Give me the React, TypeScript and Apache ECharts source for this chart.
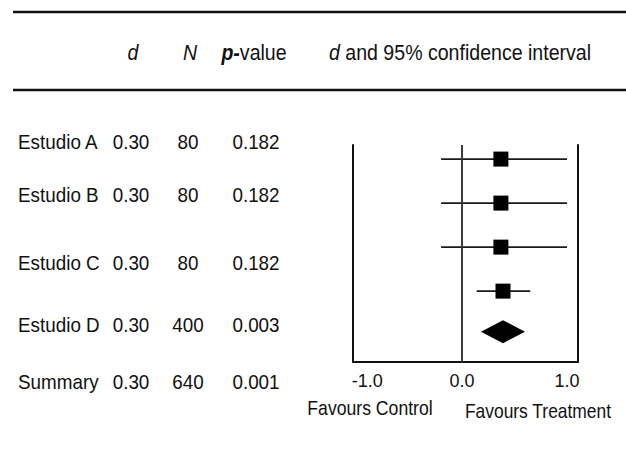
import React, { useEffect, useRef } from "react";
import * as echarts from "echarts";

// ---- data ----
const studies = ["Estudio A", "Estudio B", "Estudio C", "Estudio D", "Summary"];
const dLabels = ["0.30", "0.30", "0.30", "0.30", "0.30"];
const nValues = [80, 80, 80, 400, 640];
const pValues = ["0.182", "0.182", "0.182", "0.003", "0.001"];
const estimates = [0.37, 0.37, 0.37, 0.39, 0.39];
const lowerCI = [-0.2, -0.2, -0.2, 0.14, 0.18];
const upperCI = [1.0, 1.0, 1.0, 0.65, 0.6];
const rowPos = [1, 2, 3, 4, 4.92];
const xTicks = [-1, 0, 1];

// table row text positions (layout)
const tableRowY = [142, 195, 263, 325, 382];

const FONT = "'Liberation Sans', Arial, Helvetica, sans-serif";

export default function App() {
  const ref = useRef<HTMLDivElement>(null);

  useEffect(() => {
    document.body.style.margin = "0";
    const chart = echarts.init(ref.current!, null, { renderer: "svg" });

    const studyIdx = [0, 1, 2, 3];
    const ciData = studyIdx.map((i) => [lowerCI[i], upperCI[i], rowPos[i]]);
    const squareData = studyIdx.map((i) => [estimates[i], rowPos[i]]);
    const s = 4;
    const diamondData = [[lowerCI[s], estimates[s], upperCI[s], rowPos[s]]];

    // condensed text: real text, horizontally scaled around its anchor
    const txt = (
      text: string,
      x: number,
      y: number,
      fontSize: number,
      sx: number,
      extra: any = {}
    ) => ({
      type: "text",
      silent: true,
      x,
      y,
      scaleX: sx,
      style: {
        text,
        x: 0,
        y: 0,
        fontFamily: FONT,
        fontSize,
        fill: "#111",
        align: "center",
        verticalAlign: "middle",
        ...extra,
      },
    });

    const HFS = 21.5;
    const HSX = 0.91;
    const RFS = 20.5;
    const RSX = 0.92;

    const graphics: any[] = [
      {
        type: "line",
        silent: true,
        shape: { x1: 13, y1: 12, x2: 626, y2: 12 },
        style: { stroke: "#111", lineWidth: 2.5 },
      },
      {
        type: "line",
        silent: true,
        shape: { x1: 13, y1: 90, x2: 626, y2: 90 },
        style: { stroke: "#111", lineWidth: 2.5 },
      },
      txt("d", 133, 52, HFS, HSX, { fontStyle: "italic" }),
      txt("N", 190, 52, HFS, HSX, { fontStyle: "italic" }),
      txt("{b|p-}{n|value}", 254, 52, HFS, HSX, {
        rich: {
          b: { fontFamily: FONT, fontSize: HFS, fontStyle: "italic", fontWeight: "bold", fill: "#111" },
          n: { fontFamily: FONT, fontSize: HFS, fill: "#111" },
        },
      }),
      txt("{i|d} and 95% confidence interval", 460, 52, HFS, HSX, {
        rich: {
          i: { fontFamily: FONT, fontSize: HFS, fontStyle: "italic", fill: "#111" },
        },
      }),
      txt("Favours Control", 370, 408, RFS, 0.86),
      txt("Favours Treatment", 538, 411, RFS, 0.85),
    ];

    studies.forEach((name, i) => {
      const y = tableRowY[i];
      graphics.push(txt(name, 18, y, RFS, RSX, { align: "left" }));
      graphics.push(txt(dLabels[i], 131, y, RFS, RSX));
      graphics.push(txt(String(nValues[i]), 188, y, RFS, RSX));
      graphics.push(txt(pValues[i], 256, y, RFS, RSX));
    });

    const yAxisBase = {
      type: "value",
      inverse: true,
      min: 0.68,
      max: 5.61,
      axisLabel: { show: false },
      axisTick: { show: false },
      splitLine: { show: false },
      axisLine: { show: true, onZero: false, lineStyle: { color: "#111", width: 2 } },
    };

    chart.setOption({
      animation: false,
      textStyle: { fontFamily: FONT },
      grid: { left: 353, right: 48, top: 145, bottom: 105 },
      xAxis: {
        type: "value",
        min: -1.04,
        max: 1.105,
        position: "bottom",
        axisLine: { show: true, onZero: false, lineStyle: { color: "#111", width: 2 } },
        axisTick: { show: false },
        splitLine: { show: false },
        axisLabel: {
          customValues: xTicks,
          margin: 10,
          color: "#111",
          fontSize: 18,
          fontFamily: FONT,
          formatter: (v: number) => (v === -1 ? "{s|" + v.toFixed(1) + "}" : v.toFixed(1)),
          rich: {
            s: { padding: [0, 0, 0, 20], fontSize: 18, fontFamily: FONT, color: "#111" },
          },
        },
      },
      yAxis: [
        { ...yAxisBase, position: "left" },
        { ...yAxisBase, position: "right" },
      ],
      series: [
        {
          type: "custom",
          silent: true,
          data: ciData,
          renderItem: (params: any, api: any) => {
            const a = api.coord([api.value(0), api.value(2)]);
            const b = api.coord([api.value(1), api.value(2)]);
            return {
              type: "line",
              shape: { x1: a[0], y1: a[1], x2: b[0], y2: b[1] },
              style: { stroke: "#1a1a1a", lineWidth: 1.9 },
            };
          },
          markLine: {
            silent: true,
            symbol: "none",
            label: { show: false },
            lineStyle: { color: "#333", width: 1.9, type: "solid" },
            data: [{ xAxis: 0 }],
          },
          z: 2,
        },
        {
          type: "scatter",
          silent: true,
          data: squareData,
          symbol: "rect",
          symbolSize: 15,
          itemStyle: { color: "#000", opacity: 1 },
          z: 3,
        },
        {
          type: "custom",
          silent: true,
          data: diamondData,
          renderItem: (params: any, api: any) => {
            const y = api.value(3);
            const l = api.coord([api.value(0), y]);
            const c = api.coord([api.value(1), y]);
            const r = api.coord([api.value(2), y]);
            const h = 11.5;
            return {
              type: "polygon",
              shape: {
                points: [
                  [l[0], l[1]],
                  [c[0], c[1] - h],
                  [r[0], r[1]],
                  [c[0], c[1] + h],
                ],
              },
              style: { fill: "#000" },
            };
          },
          z: 3,
        },
      ],
      graphic: graphics,
    });

    return () => chart.dispose();
  }, []);

  return <div ref={ref} style={{ width: 626, height: 467 }} />;
}
